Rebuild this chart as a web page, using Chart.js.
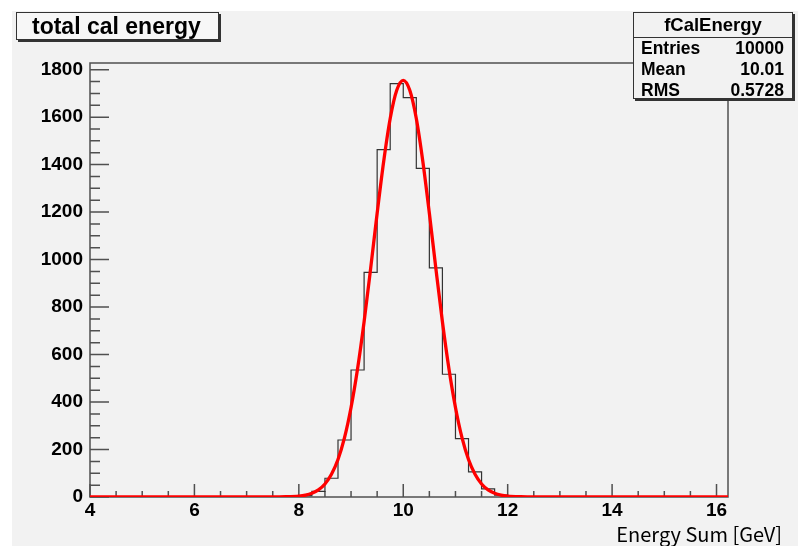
<!DOCTYPE html>
<html>
<head>
<meta charset="utf-8">
<script src="https://cdn.jsdelivr.net/npm/chart.js@4/dist/chart.umd.min.js"></script>
<style>
  body { margin: 0; background: #fff; }
  .wrap { position: relative; width: 798px; height: 546px; }
  canvas { position: absolute; left: 0; top: 0; }
  .title-box {
    position: absolute; left: 16px; top: 12px; height: 26px; width: 186px;
    border: 1px solid #333; box-shadow: 2px 2px 0 #333; background: #f7f7f7;
    font: bold 23px "Liberation Sans", Arial, sans-serif; line-height: 26px;
    padding-left: 15px;
  }
  .stats-box {
    position: absolute; left: 633px; top: 12px; width: 158px; height: 85px;
    border: 1px solid #333; box-shadow: 2px 2px 0 #333; background: #f2f2f2;
    font: bold 17.5px "Liberation Sans", Arial, sans-serif;
  }
  .stats-head { height: 24px; line-height: 24px; text-align: center; border-bottom: 1px solid #333; font-size: 18.5px; }
  .stats-row { height: 21px; line-height: 21px; padding: 0 8px 0 7px; display: flex; justify-content: space-between; }
  .stats-row:first-of-type { margin-top: 1px; }
  .x-title {
    position: absolute; right: 16px; top: 523px;
    font: 20px "Noto Sans CJK JP", "Noto Sans", sans-serif; line-height: 22px; color: #000;
  }
</style>
</head>
<body>
<div class="wrap">
  <canvas id="chart" width="798" height="546"></canvas>
  <div class="title-box">total cal energy</div>
  <div class="stats-box" id="stats"></div>
  <div class="x-title">Energy Sum [GeV]</div>
</div>
<script>
// histogram bins (lower edges, width 0.25) and counts
const binEdges = [8.0, 8.25, 8.5, 8.75, 9.0, 9.25, 9.5, 9.75, 10.0, 10.25, 10.5, 10.75, 11.0, 11.25, 11.5, 11.75, 12.0];
const binCounts = [6, 24, 79, 240, 535, 946, 1463, 1741, 1682, 1384, 965, 517, 246, 106, 34, 8];

// red fit curve
const fitX = [4, 7.5, 7.75, 8.0, 8.125, 8.25, 8.375, 8.5, 8.625, 8.75, 8.875, 9.0, 9.125, 9.25, 9.375, 9.5, 9.625, 9.75, 9.875,
  10.0, 10.125, 10.25, 10.375, 10.5, 10.625, 10.75, 10.875, 11.0, 11.125, 11.25, 11.375, 11.5, 11.625, 11.75, 11.875, 12.0, 12.25, 12.5, 16.22];
const fitY = [0, 0, 1, 4, 8, 16, 30, 55, 96, 158, 250, 377, 540, 738, 962, 1195, 1413, 1594, 1713,
  1755, 1713, 1594, 1413, 1195, 962, 738, 540, 377, 250, 158, 96, 55, 30, 16, 8, 4, 1, 0, 0];

const xRange = [4, 16.22];
const yRange = [0, 1828];

const statsLabels = ['Entries', 'Mean', 'RMS'];
const statsValues = ['10000', '10.01', '0.5728'];

const statsBox = document.getElementById('stats');
statsBox.innerHTML = '<div class="stats-head">fCalEnergy</div>' +
  statsLabels.map((l, i) => `<div class="stats-row"><span>${l}</span><span>${statsValues[i]}</span></div>`).join('');

// build stepped outline of the histogram
const histPoints = [{ x: xRange[0], y: 0 }];
binCounts.forEach((c, i) => histPoints.push({ x: binEdges[i], y: c }));
histPoints.push({ x: binEdges[binEdges.length - 1], y: 0 });
histPoints.push({ x: xRange[1], y: 0 });

const fitPoints = fitX.map((x, i) => ({ x: x, y: fitY[i] }));

const padPlugin = {
  id: 'pad',
  beforeDraw(chart) {
    const ctx = chart.ctx;
    ctx.save();
    ctx.fillStyle = '#fff';
    ctx.fillRect(0, 0, chart.width, chart.height);
    ctx.fillStyle = '#f2f2f2';
    ctx.fillRect(12, 11, chart.width - 12, chart.height - 11);
    ctx.restore();
  },
  beforeDatasetsDraw(chart) {
    const ctx = chart.ctx;
    const a = chart.chartArea;
    const xs = chart.scales.x, ys = chart.scales.y;
    ctx.save();
    ctx.strokeStyle = '#505050';
    ctx.lineWidth = 1.5;
    ctx.strokeRect(a.left, a.top, a.right - a.left, a.bottom - a.top);
    ctx.beginPath();
    xs.ticks.forEach((t, i) => {
      const px = xs.getPixelForTick(i);
      const len = Math.abs(t.value % 2) < 1e-6 ? 13 : 6;
      ctx.moveTo(px, a.bottom);
      ctx.lineTo(px, a.bottom - len);
    });
    ys.ticks.forEach((t, i) => {
      const py = ys.getPixelForTick(i);
      const len = t.value % 200 === 0 ? 19 : 10;
      ctx.moveTo(a.left, py);
      ctx.lineTo(a.left + len, py);
    });
    ctx.stroke();
    ctx.restore();
  }
};

const tickFont = { family: 'Liberation Sans', size: 19, weight: 'bold' };

new Chart(document.getElementById('chart'), {
  type: 'scatter',
  data: {
    datasets: [
      {
        label: 'fit',
        data: fitPoints,
        showLine: true,
        borderColor: '#ff0000',
        borderWidth: 3.3,
        pointRadius: 0,
        cubicInterpolationMode: 'monotone',
        fill: false
      },
      {
        label: 'fCalEnergy',
        data: histPoints,
        showLine: true,
        stepped: 'before',
        borderColor: '#333333',
        borderWidth: 1.2,
        pointRadius: 0,
        fill: false
      }
    ]
  },
  options: {
    responsive: false,
    devicePixelRatio: 1,
    animation: false,
    layout: { padding: { left: 0, top: 63, right: 70, bottom: 0 } },
    plugins: { legend: { display: false }, tooltip: { enabled: false } },
    scales: {
      x: {
        type: 'linear',
        min: xRange[0],
        max: xRange[1],
        grid: { display: false, drawTicks: false },
        border: { display: false },
        afterFit: s => { s.height = 49; },
        ticks: {
          stepSize: 0.5,
          autoSkip: false,
          includeBounds: false,
          maxRotation: 0,
          padding: 2,
          color: '#000',
          font: tickFont,
          callback: v => (Math.abs(v % 2) < 1e-6 ? String(v) : '')
        }
      },
      y: {
        type: 'linear',
        min: yRange[0],
        max: yRange[1],
        grid: { display: false, drawTicks: false },
        border: { display: false },
        afterFit: s => { s.width = 90; },
        ticks: {
          stepSize: 50,
          autoSkip: false,
          includeBounds: false,
          padding: 7,
          color: '#000',
          font: tickFont,
          callback: v => (v % 200 === 0 ? String(v) : '')
        }
      }
    }
  },
  plugins: [padPlugin]
});
</script>
</body>
</html>
